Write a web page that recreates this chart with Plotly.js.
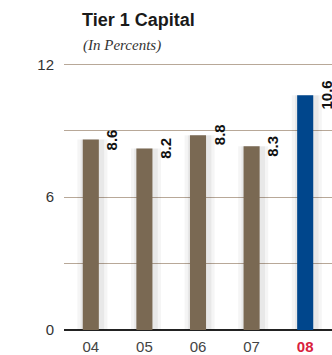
<!DOCTYPE html>
<html><head><meta charset="utf-8">
<script src="https://cdn.plot.ly/plotly-3.0.1.min.js"></script>
<style>html,body{margin:0;padding:0;background:#fff}#c{width:332px;height:355px}</style>
</head><body><div id="c"></div>
<script>
const years = ['04','05','06','07','08'];
const values = [8.6, 8.2, 8.8, 8.3, 10.6];
const colors = ['#7a6953','#7a6953','#7a6953','#7a6953','#00468c'];
const tickText = ['04','05','06','07','<b><span style="color:#d9213e">08</span></b>'];
const yTicks = [0,3,6,9,12];
const yTickText = ['0','','6','','12'];

const shadow1 = {type:'bar', x:years, y:values, width:0.56, offset:-0.25,
  marker:{color:'rgba(0,0,0,0.04)', line:{width:0}}, hoverinfo:'skip'};
const shadow2 = {type:'bar', x:years, y:values, width:0.44, offset:-0.19,
  marker:{color:'rgba(0,0,0,0.05)', line:{width:0}}, hoverinfo:'skip'};
const bars = {type:'bar', x:years, y:values, width:0.3,
  marker:{color:colors, line:{width:0}}, hoverinfo:'skip'};

const ann = values.map((v,i)=>({x:i, y:v, xref:'x', yref:'y', text:'<b>'+v.toFixed(1)+'</b>',
  textangle:-90, showarrow:false, xanchor:'center', yanchor:'middle', xshift:21,
  font:{family:'Liberation Sans, Arial, sans-serif', size:15, color:'#111'}}));
ann.push({xref:'paper', yref:'paper', x:(80-64)/268, y:(330-20)/269, xanchor:'left', yanchor:'middle',
  text:'<b>Tier 1 Capital</b>', showarrow:false,
  font:{family:'Liberation Sans, Arial, sans-serif', size:18, color:'#1a1a1a'}});
ann.push({xref:'paper', yref:'paper', x:(81-64)/268, y:(330-45)/269, xanchor:'left', yanchor:'middle',
  text:'<i>(In Percents)</i>', showarrow:false,
  font:{family:'Liberation Serif, Times New Roman, serif', size:15, color:'#333'}});

const layout = {
  width:332, height:355, margin:{l:64, r:0, t:61, b:25},
  paper_bgcolor:'#fff', plot_bgcolor:'#fff', barmode:'overlay', showlegend:false,
  xaxis:{type:'category', range:[-0.5,4.5], tickvals:years, ticktext:tickText,
    showgrid:false, zeroline:false, showline:false, ticks:'', ticklabelstandoff:6,
    tickfont:{family:'Liberation Sans, Arial, sans-serif', size:15, color:'#444'}},
  yaxis:{range:[0,12.15], tickvals:yTicks, ticktext:yTickText, showgrid:true,
    gridcolor:'#b8a898', gridwidth:1.3, zeroline:true, zerolinecolor:'#222', zerolinewidth:1.5,
    ticks:'outside', ticklen:6, tickcolor:'rgba(0,0,0,0)', showline:false,
    tickfont:{family:'Liberation Sans, Arial, sans-serif', size:15, color:'#333'}},
  annotations:ann
};
Plotly.newPlot('c',[shadow1,shadow2,bars],layout,{displayModeBar:false, staticPlot:true});
</script></body></html>
